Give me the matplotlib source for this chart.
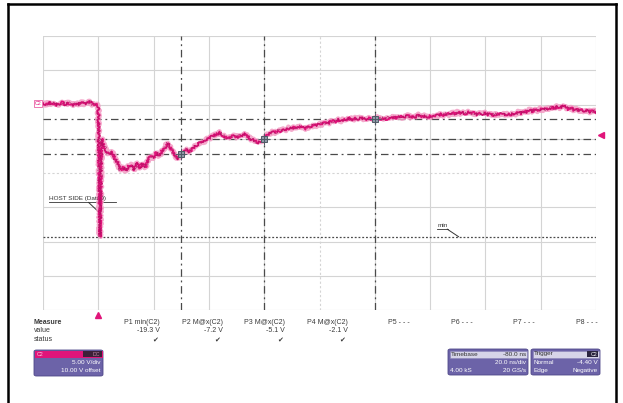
import numpy as np
import matplotlib
matplotlib.use("Agg")
import matplotlib.pyplot as plt
from matplotlib.lines import Line2D
from matplotlib.patches import FancyBboxPatch, Rectangle

# ---------------- data ----------------
pre_t = list(range(-20, 0))
pre_v = [0.2, 0.0, 0.3, 0.1, 0.2, -0.1, 0.1, 0.3, 0.0, 0.2,
         0.1, -0.1, 0.2, 0.0, 0.3, 0.1, 0.2, 0.4, 0.0, 0.1]
edge_t = [0.0, 0.3, 0.6, 0.9, 1.2]
edge_v = [-0.3, -9.0, -19.3, -12.0, -5.0]
post_t = list(range(2, 181))
post_v = [-6.0, -6.9, -7.2, -7.0, -7.9, -8.5, -9.6, -9.2, -9.7, -9.0,
          -8.8, -9.6, -8.5, -9.3, -8.6, -9.2, -8.0, -7.6, -7.8, -7.0,
          -7.5, -6.8, -6.4, -5.6, -6.2, -7.0, -7.6, -7.9, -7.3, -7.0,
          -6.5, -6.9, -6.5, -6.1, -5.8, -5.4, -5.5, -5.1, -5.0, -4.7,
          -4.5, -4.3, -4.1, -4.5, -4.8, -4.9, -4.7, -4.6, -4.8, -4.6,
          -4.5, -4.3, -4.7, -5.0, -5.2, -5.4, -5.6, -5.3, -5.1, -4.5,
          -4.2, -4.0, -4.1, -3.8, -3.9, -3.6, -3.7, -3.4, -3.5, -3.3,
          -3.4, -3.2, -3.4, -3.5, -3.3, -3.2, -3.0, -3.1, -2.8, -2.9,
          -2.6, -2.8, -2.5, -2.4, -2.5, -2.2, -2.4, -2.1, -2.2, -2.0,
          -2.2, -2.0, -2.1, -1.9, -2.1, -2.2, -2.0, -2.2, -2.1, -1.9,
          -2.1, -2.0, -2.2, -1.9, -2.0, -1.8, -2.0, -1.7, -1.9, -1.8,
          -1.6, -1.9, -1.7, -1.8, -1.5, -1.8, -1.6, -1.9, -1.7, -1.8,
          -1.5, -1.6, -1.4, -1.6, -1.3, -1.5, -1.2, -1.4, -1.1, -1.3,
          -1.2, -1.4, -1.1, -1.3, -1.2, -1.5, -1.3, -1.4, -1.2, -1.5,
          -1.3, -1.6, -1.4, -1.5, -1.3, -1.6, -1.4, -1.5, -1.3, -1.4,
          -1.1, -1.3, -1.0, -1.1, -0.8, -1.0, -0.7, -0.9, -0.6, -0.8,
          -0.5, -0.7, -0.4, -0.6, -0.3, -0.5, -0.1, -0.4, -0.7, -0.5,
          -0.8, -0.7, -0.9, -0.8, -1.0, -0.8, -1.1, -0.9, -1.1]

time_ns = pre_t + edge_t + post_t
volts = pre_v + edge_v + post_v

cursor_t = [30, 60, 100]
cursor_v = [-7.2, -5.1, -2.1]
min_v = -19.3
trigger_t = 0.0
trigger_level = -4.4

meas_names = ["P1 min(C2)", "P2 M@x(C2)", "P3 M@x(C2)", "P4 M@x(C2)",
              "P5 - - -", "P6 - - -", "P7 - - -", "P8 - - -"]
meas_values = ["-19.3 V", "-7.2 V", "-5.1 V", "-2.1 V", "", "", "", ""]
meas_status = [True, True, True, True, False, False, False, False]

# ---------------- figure ----------------
W, H = 623, 403
fig = plt.figure(figsize=(W / 100, H / 100), dpi=100)
fig.patch.set_facecolor("white")
plt.rcParams['font.family'] = ['Liberation Sans', 'DejaVu Sans']


def fx(x):
    return x / W


def fy(y):
    return 1 - y / H


def fline(xs, ys, **kw):
    fig.add_artist(Line2D([fx(x) for x in xs], [fy(y) for y in ys],
                          transform=fig.transFigure, **kw))


def ftext(x, y, s, **kw):
    kw.setdefault("fontsize", 5)
    kw.setdefault("color", "#3a3a3a")
    kw.setdefault("va", "center")
    fig.text(fx(x), fy(y), s, **kw)


# outer frame
fline([8, 8], [4, 403], color="black", lw=1.8)
fline([8, 615.5], [4, 4], color="black", lw=1.8)
fline([615.5, 615.5], [4, 403], color="black", lw=1.8)

# scope axes
ax = fig.add_axes([fx(43), fy(310), (596 - 43) / W, (310 - 36) / H])
ax.set_xlim(-20, 180)
ax.set_ylim(-30, 10)
ax.set_axis_off()

grid_c = "#d4d4d4"
for t in np.arange(-20, 181, 20):
    ls = (0, (2, 2)) if t == 80 else "-"
    ax.axvline(t, color=grid_c, lw=0.8, ls=ls, zorder=1)
for v in np.arange(-30, 11, 5):
    ls = (0, (2, 2)) if v == -10 else "-"
    ax.axhline(v, color=grid_c, lw=0.8, ls=ls, zorder=1)

# cursors
cur_c = "#4a4a4a"
dashdot = (0, (6, 3, 1.5, 3))
for t in cursor_t:
    ax.axvline(t, color=cur_c, lw=0.9, ls=dashdot, zorder=2)
for v in cursor_v:
    ax.axhline(v, color=cur_c, lw=0.9, ls=dashdot, zorder=2)
ax.axhline(min_v, color=cur_c, lw=0.9, ls=(0, (1.5, 1.5)), zorder=2)

# trace (fuzzy look of a noisy scope trace)
halo, = ax.plot(time_ns, volts, color="#f39cc4", lw=3.4, alpha=0.85,
                zorder=3, solid_joinstyle="round")
halo.set_sketch_params(scale=1.3, length=2.5, randomness=3)
core, = ax.plot(time_ns, volts, color="#e0127a", lw=1.3, zorder=4)
core.set_sketch_params(scale=1.2, length=2.0, randomness=3)
dark, = ax.plot(time_ns, volts, color="#b01060", lw=0.5, zorder=4,
                alpha=0.8)
dark.set_sketch_params(scale=1.6, length=1.5, randomness=4)

# cursor markers
ax.plot(cursor_t, cursor_v, ls="none", marker="s", ms=4.4,
        mfc="#8e9aa8", mec="#505a66", mew=0.7, zorder=5)
ax.plot(cursor_t, cursor_v, ls="none", marker="+", ms=8,
        mec="#505a66", mew=0.7, zorder=5)

# trigger markers
ax.plot([trigger_t], [-30.75], marker="^", ms=4.5, color="#e0157a",
        clip_on=False, zorder=5)
ax.plot([181.8], [trigger_level], marker="<", ms=4.5, color="#e0157a",
        clip_on=False, zorder=5)
ax.text(-20.5, 0.15, "C2", fontsize=3.8, color="#e0157a", ha="right",
        va="center", clip_on=False,
        bbox=dict(boxstyle="square,pad=0.1", fc="white", ec="#e0157a",
                  lw=0.4))

# annotations
ax.text(-17.7, -13.75, "HOST SIDE (Data0)", fontsize=4.6, color="#333333",
        ha="left", va="center")
ax.plot([-17.8, 6.5], [-14.3, -14.3], color="#333333", lw=0.6)
ax.plot([-3.5, 0.7], [-14.3, -15.9], color="#333333", lw=0.7)
ax.text(122.6, -17.7, "min", fontsize=4.6, color="#333333",
        ha="left", va="center")
ax.plot([122.6, 126.6], [-18.2, -18.2], color="#333333", lw=0.6)
ax.plot([126.2, 130.3], [-18.2, -19.3], color="#333333", lw=0.7)

# ---------------- measurement panel ----------------
ftext(34, 323, "Measure", fontweight="bold")
ftext(34, 331, "value")
ftext(34, 339.5, "status")
for i, (nm, val, st) in enumerate(zip(meas_names, meas_values, meas_status)):
    right = 160 + 62.5 * i
    ftext(right, 323, nm, ha="right")
    if val:
        ftext(right, 331, val, ha="right")
    if st:
        ftext(right - 5, 340, "\u2714", ha="center", fontsize=5,
              family=["DejaVu Sans"])

# ---------------- info boxes ----------------
body_c = "#6c63a8"
mag_c = "#e0157a"


def box(x0, y0, x1, y1, color):
    fig.add_artist(FancyBboxPatch((fx(x0), fy(y1)), fx(x1) - fx(x0),
                                  fy(y0) - fy(y1),
                                  boxstyle="round,pad=0,rounding_size=0.004",
                                  transform=fig.transFigure, fc=color,
                                  ec="#4e4788", lw=0.6))


def rect(x0, y0, x1, y1, color, ec="none"):
    fig.add_artist(Rectangle((fx(x0), fy(y1)), fx(x1) - fx(x0),
                             fy(y0) - fy(y1), transform=fig.transFigure,
                             fc=color, ec=ec, lw=0.4))


# C2 box
box(34, 350, 103, 376, body_c)
rect(35, 351, 103, 357.5, mag_c)
rect(83, 351.5, 102, 357, "#3c2038")
ftext(37, 354.3, "C2", color="#ffd0e6", fontsize=3.8)
ftext(100, 354.3, "DC", color="#c08aa8", fontsize=3.8, ha="right")
ftext(101, 363, "5.00 V/div", color="white", ha="right", fontsize=4.6)
ftext(101, 371, "10.00 V offset", color="white", ha="right", fontsize=4.6)

# Timebase box
box(448, 349, 528, 375, body_c)
rect(449.5, 350.5, 526.5, 357.5, "#d6d4e8", ec="#8a84b8")
ftext(451, 354, "Timebase", color="#333333", fontsize=4.6)
ftext(526, 354, "-80.0 ns", color="#333333", ha="right", fontsize=4.6)
ftext(526, 362.5, "20.0 ns/div", color="white", ha="right", fontsize=4.6)
ftext(450, 370.5, "4.00 kS", color="white", fontsize=4.6)
ftext(526, 370.5, "20 GS/s", color="white", ha="right", fontsize=4.6)

# Trigger box
box(531, 349, 600, 375, body_c)
rect(532.5, 350.5, 598.5, 357.5, "#d6d4e8", ec="#8a84b8")
rect(587, 351.2, 598, 356.8, "#2a2440")
ftext(534, 354, "Trigger", color="#333333", fontsize=4.6)
ftext(597.5, 354, "C2", color="white", ha="right", fontsize=3.8)
ftext(533, 362.5, "Normal", color="white", fontsize=4.6)
ftext(598, 362.5, "-4.40 V", color="white", ha="right", fontsize=4.6)
ftext(533, 370.5, "Edge", color="white", fontsize=4.6)
ftext(598, 370.5, "Negative", color="white", ha="right", fontsize=4.6)

fig.savefig("out.png", dpi=100, facecolor="white")
